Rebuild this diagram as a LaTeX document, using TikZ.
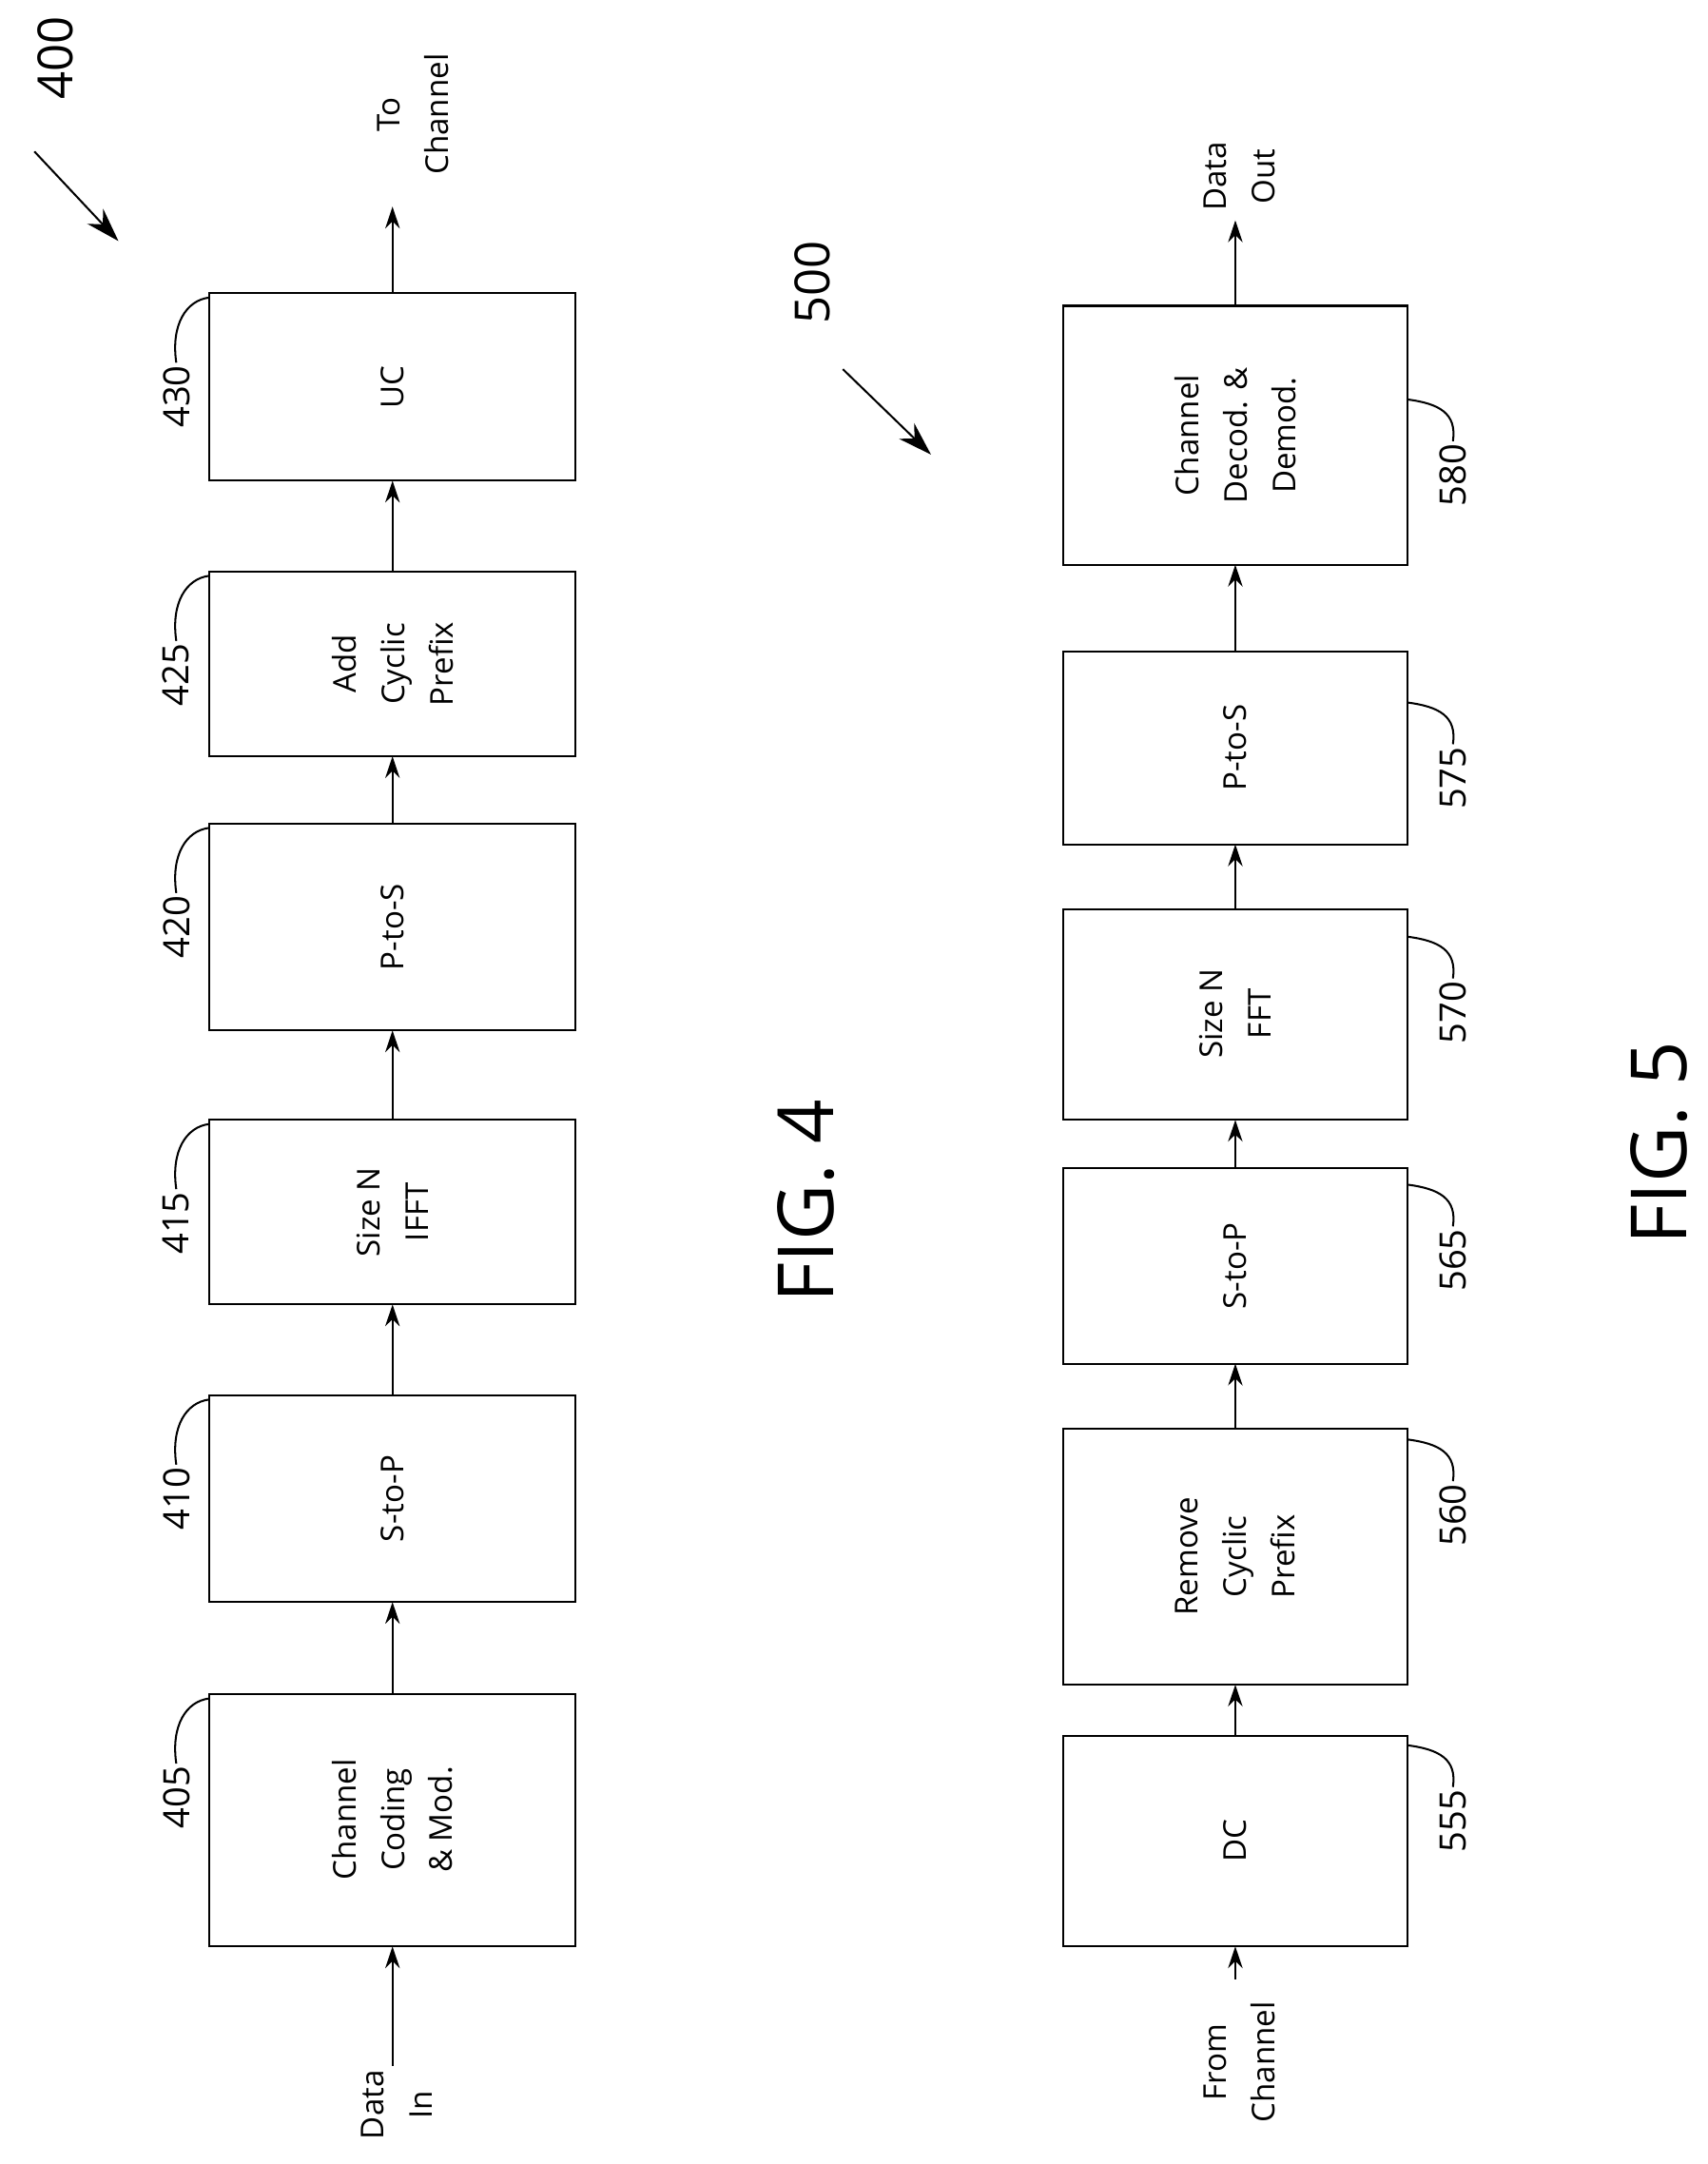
\documentclass[tikz,border=0pt]{standalone}
\usepackage{fontspec}
\setmainfont{Open Sans}
\usetikzlibrary{arrows.meta}

\tikzset{
    blk/.style={draw, thick, inner sep=0pt},
    txt/.style={rotate=90, align=center, font=\fontsize{13}{20}\selectfont},
    num/.style={rotate=90, font=\fontsize{15}{18}\selectfont, inner sep=1pt},
    flow/.style={thick, -{Stealth[length=9pt,width=6pt]}},
    lead/.style={thick},
    fig/.style={rotate=90, font=\fontsize{32}{36}\selectfont},
}

\begin{document}
\begin{tikzpicture}[x=0.02cm,y=-0.02cm]
\useasboundingbox (0,0) rectangle (1240,1571);

% FIG. 4 blocks
\draw[blk] (152,1230) rectangle (418,1413); \node[txt] (b405) at (285,1321) {Channel\\Coding\\\& Mod.};
\draw[blk] (152,1013) rectangle (418,1163); \node[txt] (b410) at (285,1088) {S-to-P};
\draw[blk] (152,813) rectangle (418,947);   \node[txt] (b415) at (285,880) {Size N\\IFFT};
\draw[blk] (152,598) rectangle (418,748);   \node[txt] (b420) at (285,673) {P-to-S};
\draw[blk] (152,415) rectangle (418,549);   \node[txt] (b425) at (285,482) {Add\\Cyclic\\Prefix};
\draw[blk] (152,213) rectangle (418,349);   \node[txt] (b430) at (285,281) {UC};

% FIG. 4 signal path
\coordinate (in4) at (285,1500);
\coordinate (out4) at (285,150);
\node[txt] (datain) at (288,1528) {Data\\In};
\node[txt] (tochan) at (300,83) {To\\Channel};
\draw[flow] (in4) -- (285,1413);
\foreach \a/\b in {1230/1163, 1013/947, 813/748, 598/549, 415/349} {
    \draw[flow] (285,\a) -- (285,\b);
}
\draw[flow] (285,213) -- (out4);

% FIG. 4 reference numbers
\foreach \n/\y in {405/1233, 410/1016, 415/816, 420/601, 425/418, 430/216} {
    \node[num] (l\n) at (128,\y+72) {\n};
    \draw[lead] (l\n.east) .. controls (124,\y+20) and (135,\y+2) .. (152,\y);
}

\node[num, font=\fontsize{20}{24}\selectfont] (l400) at (40,42) {400};
\draw[lead, -{Stealth[length=14pt,width=9pt]}] (25,110) -- (86,175);
\node[fig] (fig4) at (585,872) {FIG. 4};

% FIG. 5 blocks
\draw[blk] (772,1260) rectangle (1022,1413); \node[txt] (b555) at (897,1336) {DC};
\draw[blk] (772,1037) rectangle (1022,1223); \node[txt] (b560) at (897,1130) {Remove\\Cyclic\\Prefix};
\draw[blk] (772,848) rectangle (1022,990);   \node[txt] (b565) at (897,919) {S-to-P};
\draw[blk] (772,660) rectangle (1022,813);   \node[txt] (b570) at (897,736) {Size N\\FFT};
\draw[blk] (772,473) rectangle (1022,613);   \node[txt] (b575) at (897,543) {P-to-S};
\draw[blk] (772,222) rectangle (1022,410);   \node[txt] (b580) at (897,316) {Channel\\Decod. \&\\Demod.};

% FIG. 5 signal path
\coordinate (in5) at (897,1437);
\coordinate (out5) at (897,160);
\node[txt] (fromchan) at (900,1497) {From\\Channel};
\node[txt] (dataout) at (900,128) {Data\\Out};
\draw[flow] (in5) -- (897,1413);
\foreach \a/\b in {1260/1223, 1037/990, 848/813, 660/613, 473/410} {
    \draw[flow] (897,\a) -- (897,\b);
}
\draw[flow] (897,222) -- (out5);

% FIG. 5 reference numbers
\foreach \n/\y in {555/1322, 560/1100, 565/915, 570/735, 575/565, 580/345} {
    \node[num] (l\n) at (1055,\y) {\n};
    \draw[lead] (l\n.east) .. controls (1058,\y-45) and (1045,\y-52) .. (1022,\y-55);
}

\node[num, font=\fontsize{20}{24}\selectfont] (l500) at (590,205) {500};
\draw[lead, -{Stealth[length=14pt,width=9pt]}] (612,268) -- (676,330);
\node[fig] (fig5) at (1205,830) {FIG. 5};
\end{tikzpicture}
\end{document}
